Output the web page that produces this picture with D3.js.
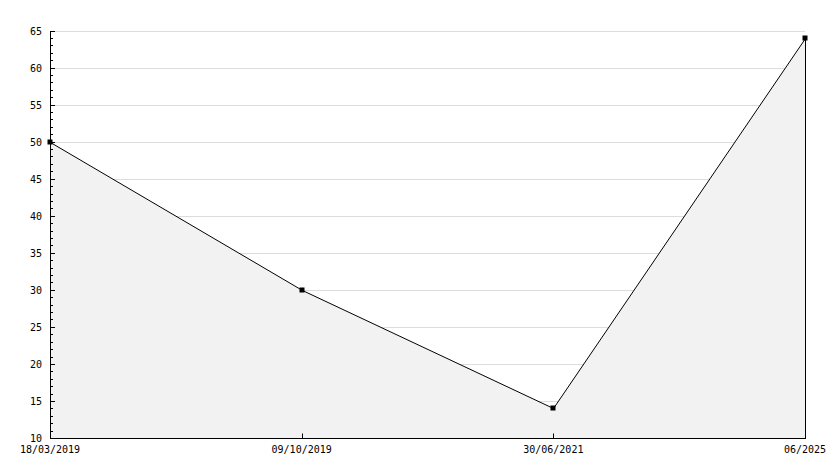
<!DOCTYPE html>
<html><head><meta charset="utf-8">
<script src="https://cdn.jsdelivr.net/npm/d3@7"></script>
<style>body{margin:0;background:#fff}svg{display:block}text{font-family:"DejaVu Sans Mono",monospace;font-size:10px;fill:#000}</style>
</head><body><svg id="c" width="834" height="468"></svg>
<script>
const categories = ["18/03/2019", "09/10/2019", "30/06/2021", "06/2025"];
const values = [50, 30, 14, 64];
const yMajorTicks = [10, 15, 20, 25, 30, 35, 40, 45, 50, 55, 60, 65];

const svg = d3.select("#c");
const x = d3.scalePoint().domain(categories).range([50, 805]);
const y = d3.scaleLinear().domain([10, 65]).range([438, 30.5]);
const X = d => Math.round(x(d)) + 0.5, Y = v => Math.round(y(v)) + 0.5;

// grid
svg.append("g").selectAll("line").data(yMajorTicks.filter(v => v > 10)).join("line")
  .attr("x1", 55).attr("x2", 805).attr("y1", Y).attr("y2", Y)
  .attr("stroke", "#dcdcdc").attr("stroke-width", 1);

// area
const data = categories.map((c, i) => ({c, v: values[i]}));
svg.append("path").datum(data)
  .attr("d", d3.area().x(d => X(d.c)).y0(Y(10)).y1(d => Y(d.v)))
  .attr("fill", "#f2f2f2");
// right edge
svg.append("line").attr("x1", X(categories[3])).attr("x2", X(categories[3]))
  .attr("y1", Y(values[3])).attr("y2", Y(10)).attr("stroke", "#000");

// line
svg.append("path").datum(data)
  .attr("d", d3.line().x(d => X(d.c)).y(d => Y(d.v)))
  .attr("fill", "none").attr("stroke", "#000").attr("stroke-width", 1);

// y axis
const yMinor = d3.range(10, 66, 1);
svg.append("g").selectAll("line").data(yMinor).join("line")
  .attr("x1", 50).attr("x2", d => d % 5 === 0 ? 55 : 53)
  .attr("y1", Y).attr("y2", Y).attr("stroke", "#000");
svg.append("line").attr("x1", 50.5).attr("x2", 50.5).attr("y1", Y(65)).attr("y2", Y(10)).attr("stroke", "#000");
svg.append("g").selectAll("text").data(yMajorTicks).join("text")
  .attr("x", 42).attr("y", d => Y(d)).attr("dy", "0.35em").attr("text-anchor", "end").text(d => d);

// x axis
svg.append("line").attr("x1", 50).attr("x2", 806).attr("y1", Y(10)).attr("y2", Y(10)).attr("stroke", "#000");
svg.append("g").selectAll("line").data(categories.slice(1, 3)).join("line")
  .attr("x1", X).attr("x2", X).attr("y1", Y(10) - 5).attr("y2", Y(10)).attr("stroke", "#000");
svg.append("g").selectAll("text").data(categories).join("text")
  .attr("x", d => x(d)).attr("y", 453).attr("text-anchor", "middle").text(d => d);

// markers
svg.append("g").selectAll("rect").data(data).join("rect")
  .attr("x", d => X(d.c) - 3).attr("y", d => Y(d.v) - 3).attr("width", 5).attr("height", 5)
  .attr("fill", "#000");
</script></body></html>
